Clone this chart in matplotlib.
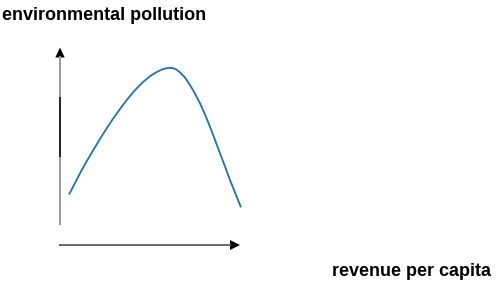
import matplotlib
matplotlib.use("Agg")
import matplotlib.pyplot as plt

# Curve (x: revenue per capita, y: environmental pollution), pixel-like units
curve_x = [69.3, 75.0, 80.0, 86.0, 93.3, 100.0, 106.7, 113.0, 120.0, 126.0, 133.3, 138.0,
           143.3, 150.0, 156.7, 163.3, 168.3, 172.0, 176.0, 180.0, 185.0, 190.0, 195.0,
           200.0, 205.0, 210.0, 215.0, 220.0, 225.0, 230.0, 236.7, 240.7]
curve_y = [194.0, 183.0, 173.3, 162.5, 150.0, 139.0, 128.3, 118.8, 109.0, 101.0, 92.0, 87.0,
           81.8, 76.2, 72.0, 69.0, 67.9, 67.9, 69.3, 72.4, 77.6, 85.0, 93.6,
           103.3, 114.5, 126.7, 140.0, 153.3, 166.5, 180.0, 196.7, 206.7]
y_label = "environmental pollution"
x_label = "revenue per capita"

W, H = 500, 286
fig = plt.figure(figsize=(5.0, 2.86), dpi=100)
ax = fig.add_axes([0, 0, 1, 1])
ax.set_xlim(0, W)
ax.set_ylim(0, H)
ax.axis("off")

def py(v):
    return H - v

# y axis with arrow
ax.plot([60.0, 60.0], [py(225), py(56)], color="#999999", lw=1.4, solid_capstyle="butt")
ax.plot([60.0, 60.0], [py(157), py(97)], color="#111111", lw=1.2, solid_capstyle="butt")
ax.fill([55.3, 64.7, 60.0], [py(57.5), py(57.5), py(47.5)], color="black", lw=0)
# x axis with arrow
ax.plot([59, 231], [py(245), py(245)], color="#666666", lw=1.4, solid_capstyle="butt")
ax.fill([230, 230, 240], [py(240), py(250), py(245)], color="black", lw=0)

# curve
ax.plot(curve_x, [py(v) for v in curve_y], color="#2371a6", lw=1.3,
        solid_capstyle="round", solid_joinstyle="round", antialiased=True)

ax.text(2.5, py(20), y_label, fontsize=13, fontweight="bold", family="Liberation Sans",
        ha="left", va="baseline", color="black")
ax.text(332, py(276), x_label, fontsize=13, fontweight="bold", family="Liberation Sans",
        ha="left", va="baseline", color="black")

fig.savefig("out.png", dpi=100)
